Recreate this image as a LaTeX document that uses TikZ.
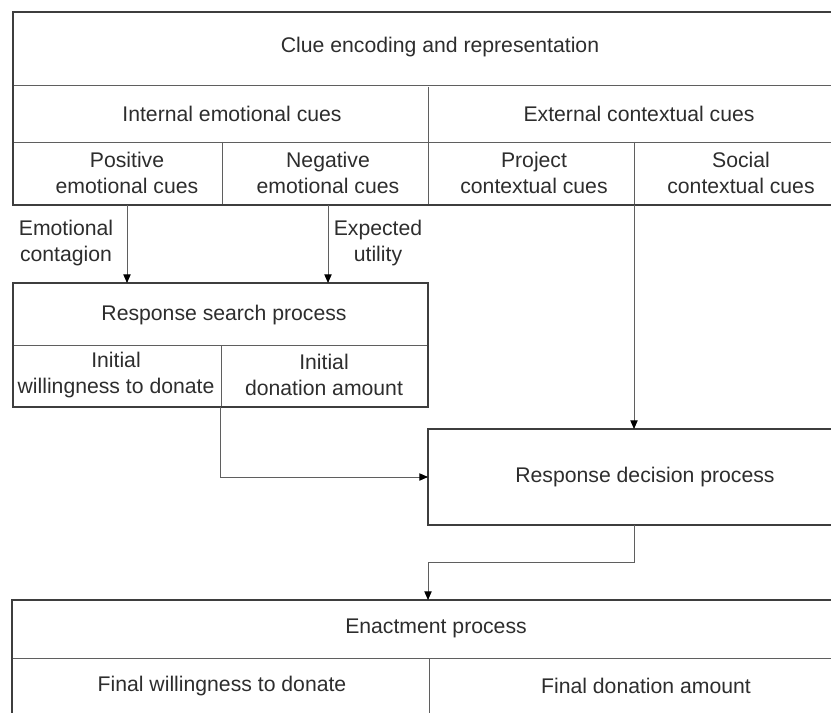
\documentclass[tikz,border=0pt]{standalone}
\usepackage{fontspec}
\setmainfont{Liberation Sans}
\usetikzlibrary{arrows.meta,fit}

\definecolor{framegray}{RGB}{62,62,62}
\definecolor{rulegray}{RGB}{95,95,95}
\definecolor{textgray}{RGB}{45,45,45}

\tikzset{
  frame/.style={draw=framegray,line width=1.3pt,inner sep=0pt,outer sep=0pt},
  rule/.style={draw=rulegray,line width=0.7pt},
  arr/.style={draw=rulegray,line width=0.7pt,-{Triangle[length=6.5pt,width=5.5pt,fill=black,color=black]}},
  txt/.style={text=textgray,inner sep=0.75pt,align=center,font=\fontsize{15.9}{19.5}\selectfont}
}

\begin{document}
\begin{tikzpicture}[x=0.75pt,y=0.75pt,yscale=-1,xscale=1]
\useasboundingbox (0,0) rectangle (831,713);

%Straight Lines [rows and columns of the cue box]
\draw[rule] (13,85) -- (840,85) ;
\draw[rule] (13,142) -- (840,142) ;
\draw[rule] (428,87) -- (428,205) ;
\draw[rule] (222,142) -- (222,205) ;
\coordinate (ctx) at (634,142) ;
\draw[rule] (ctx) -- (634,205) ;
%Straight Lines [search box]
\draw[rule] (13,345) -- (428,345) ;
\draw[rule] (221,345) -- (221,407) ;
%Straight Lines [enactment box]
\draw[rule] (12,658) -- (840,658) ;
\draw[rule] (429,658) -- (429,720) ;

%Shape: Rectangle [cue box]
\node[frame,fit={(13,12) (840,205)}] (cluebox) {};
%Shape: Rectangle [search box]
\node[frame,fit={(13,283) (428,407)}] (searchbox) {};
%Shape: Rectangle [decision box]
\node[frame,fit={(428,429) (840,525)}] (decisionbox) {};
%Shape: Rectangle [enactment box]
\node[frame,fit={(12,600) (840,720)}] (enactbox) {};

% Text Node
\node[txt] (clue) at (440,47) {Clue encoding and representation};
% Text Node
\node[txt] (internal) at (232,114) {Internal emotional cues};
% Text Node
\node[txt] (external) at (639,114) {External contextual cues};
% Text Node
\node[txt] (pos) at (127,173) {Positive\\emotional cues};
% Text Node
\node[txt] (neg) at (328,173) {Negative\\emotional cues};
% Text Node
\node[txt] (proj) at (534,173) {Project\\contextual cues};
% Text Node
\node[txt] (soc) at (741,173) {Social\\contextual cues};
% Text Node
\node[txt] (contagion) at (66,243) {Emotional\\contagion};
% Text Node
\node[txt] (utility) at (378,243) {Expected\\utility};
% Text Node
\node[txt] (search) at (224,315) {Response search process};
% Text Node
\node[txt] (initwill) at (116,375) {Initial\\willingness to donate};
% Text Node
\node[txt] (initamt) at (324,375) {Initial\\donation amount};
% Text Node
\node[txt] (decision) at (645,477) {Response decision process};
% Text Node
\node[txt] (enact) at (436,628) {Enactment process};
% Text Node
\node[txt] (finwill) at (222,686) {Final willingness to donate};
% Text Node
\node[txt] (finamt) at (646,686) {Final donation amount};

%Straight Lines [arrows]
\draw[arr] (cluebox.south -| pos) -- (searchbox.north -| pos) ;
\draw[arr] (cluebox.south -| neg) -- (searchbox.north -| neg) ;
\draw[arr] (cluebox.south -| ctx) -- (decisionbox.north -| ctx) ;
\draw[arr] (searchbox.south) |- (decisionbox.west) ;
\draw[arr] (decisionbox.south -| ctx) -- ++(0,37) -| (enactbox.north -| decisionbox.west) ;

\end{tikzpicture}
\end{document}
